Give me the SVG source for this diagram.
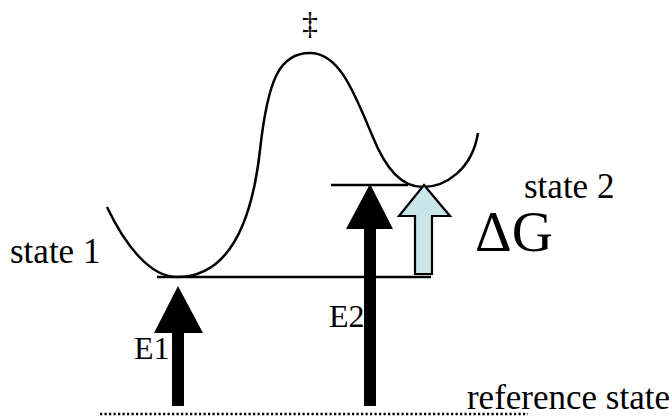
<svg xmlns="http://www.w3.org/2000/svg" width="672" height="417" viewBox="0 0 672 417">
<style>
.t{font-family:"Liberation Serif","Times New Roman",serif;fill:#000;font-size:32px}
.s{font-size:35px}
.big{font-size:57px}
.ln{stroke:#000;stroke-width:2.5;fill:none}
.blk{fill:#000;stroke:none}
</style>
<rect width="672" height="417" fill="#fff"/>
<g id="connectors">
<path id="curve" class="ln" stroke-width="2.7" d="M107,207 C125,245 150,277 177,277 C220,277 250,240 260,150 C268,78 280,53 310,53 C340,53 355,95 372,135 C386,170 402,187 423,187 C445,187 472,170 478,133"/>
<line class="ln" x1="157" y1="277" x2="431" y2="277"/>
<line class="ln" x1="331" y1="185" x2="408" y2="185"/>
<line x1="100" y1="414" x2="528" y2="414" stroke="#000" stroke-width="2.5" stroke-dasharray="2.2,2.3"/>
</g>
<g id="arrow-E1">
<polygon class="blk" points="178,286 203,333 184,333 184,406 172,406 172,333 154,333"/>
<text class="t" x="134" y="359">E1</text>
</g>
<g id="arrow-E2">
<polygon class="blk" points="370,184 393,229 376,229 376,406 364,406 364,229 346,229"/>
<text class="t" x="329" y="327">E2</text>
</g>
<g id="arrow-dG">
<polygon points="424,185 450,216 432,216 432,274 415,274 415,216 399,216" fill="#c9e5e8" stroke="#000" stroke-width="2.2" stroke-linejoin="miter"/>
<text class="t big" x="475" y="251">ΔG</text>
</g>
<g id="labels">
<text class="t" x="310" y="34" text-anchor="middle">‡</text>
<text class="t s" x="10" y="263">state 1</text>
<text class="t s" x="524" y="198">state 2</text>
<text class="t s" x="670" y="409" text-anchor="end">reference state</text>
</g>
</svg>
